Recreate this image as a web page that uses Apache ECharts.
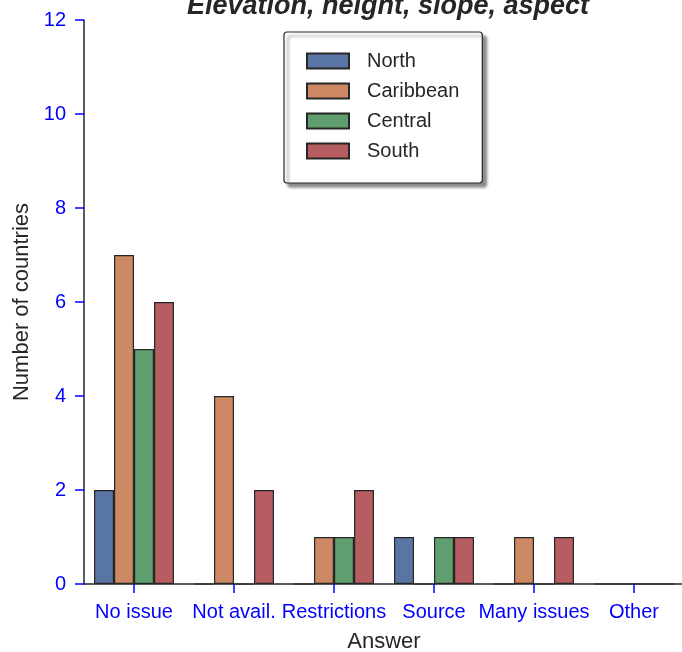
<!DOCTYPE html>
<html>
<head>
<meta charset="utf-8">
<script src="https://cdn.jsdelivr.net/npm/echarts@6/dist/echarts.min.js"></script>
<style>
  html, body { margin: 0; padding: 0; background: #fff; }
  #main { width: 682px; height: 652px; }
</style>
</head>
<body>
<div id="main"></div>
<script>
// answers per region
var categories = ['No issue', 'Not avail.', 'Restrictions', 'Source', 'Many issues', 'Other'];
var north = [2, 0, 0, 1, 0, 0];
var caribbean = [7, 4, 1, 0, 1, 0];
var central = [5, 0, 1, 1, 0, 0];
var south = [6, 2, 2, 1, 1, 0];
var yTicks = [0, 2, 4, 6, 8, 10, 12];

var font = 'Liberation Sans, Arial, sans-serif';

function barSeries(name, values, color) {
    return {
        name: name,
        type: 'bar',
        data: values,
        barGap: '0%',
        barCategoryGap: '20%',
        itemStyle: {color: color, borderColor: '#262626', borderWidth: 1.2}
    };
}

var myChart = echarts.init(document.getElementById('main'));
var option = {
    backgroundColor: '#fff',
    animation: false,
    textStyle: {fontFamily: font},
    title: {
        text: 'Elevation, height, slope, aspect',
        left: 383,
        textAlign: 'center',
        top: -12,
        textStyle: {fontSize: 27, fontWeight: 'bold', fontStyle: 'italic', color: '#262626', fontFamily: font}
    },
    legend: {
        orient: 'vertical',
        left: 284,
        top: 32,
        padding: [19, 23, 22, 22],
        icon: 'rect',
        itemWidth: 42,
        itemHeight: 15,
        itemGap: 10,
        backgroundColor: '#fff',
        borderColor: '#262626',
        borderWidth: 1.2,
        borderRadius: 3,
        shadowColor: 'rgba(0,0,0,0.45)',
        shadowBlur: 3,
        shadowOffsetX: 4,
        shadowOffsetY: 4,
        textStyle: {fontSize: 20, color: '#262626', fontFamily: font, padding: [0, 0, 0, 13]}
    },
    grid: {left: 84, right: -2, top: 20, bottom: 68, outerBoundsMode: 'none'},
    xAxis: {
        type: 'category',
        data: categories,
        name: 'Answer',
        nameLocation: 'middle',
        nameGap: 47,
        nameTextStyle: {fontSize: 22, color: '#262626'},
        axisLine: {lineStyle: {color: '#262626', width: 1.5}},
        axisTick: {show: true, alignWithLabel: true, length: 9, lineStyle: {color: '#0000ff', width: 1.5}},
        axisLabel: {color: '#0000ff', fontSize: 20, margin: 18, interval: 0}
    },
    yAxis: {
        type: 'value',
        min: yTicks[0],
        max: yTicks[yTicks.length - 1],
        interval: 2,
        name: 'Number of countries',
        nameLocation: 'middle',
        nameGap: 51,
        nameTextStyle: {fontSize: 22, color: '#262626'},
        axisLine: {show: true, lineStyle: {color: '#262626', width: 1.5}},
        axisTick: {show: true, length: 9, lineStyle: {color: '#0000ff', width: 1.5}},
        axisLabel: {color: '#0000ff', fontSize: 20, margin: 18},
        splitLine: {show: false}
    },
    series: [
        barSeries('North', north, '#5975a4'),
        barSeries('Caribbean', caribbean, '#cc8963'),
        barSeries('Central', central, '#5f9e6e'),
        barSeries('South', south, '#b55d60')
    ]
};
myChart.setOption(option);
</script>
</body>
</html>
